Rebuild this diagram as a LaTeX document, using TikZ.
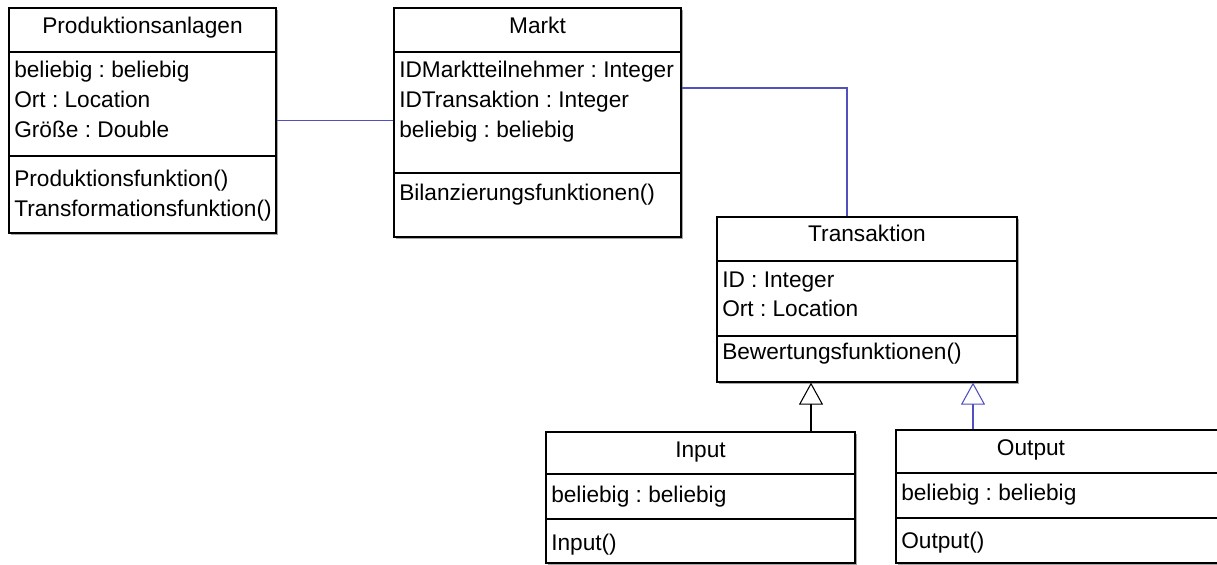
\documentclass[tikz,border=0pt]{standalone}
\usepackage{fontspec}
\setmainfont{Liberation Sans}
\usetikzlibrary{arrows.meta, fit, shadows}
\definecolor{umlblau}{RGB}{80,80,190}
\frenchspacing

\begin{document}
\begin{tikzpicture}[x=0.75pt, y=-0.75pt, >={Triangle[open, length=16.5pt, width=18pt]},
		klasse/.style={draw, fill=white, line width=0.9pt, inner sep=0pt,
			drop shadow={shadow xshift=1.2pt, shadow yshift=-1.2pt, fill=black, opacity=0.35}},
		trenn/.style={line width=0.9pt},
		assoz/.style={umlblau, line width=0.8pt},
		erbt/.style={->, line width=0.8pt},
		every node/.style={font=\fontsize{17}{20}\selectfont},
		titel/.style={anchor=base, inner sep=0pt},
		zeile/.style={anchor=base west, inner sep=0pt}]
	% 画布 (下方与右侧被截断)
	\clip (0,0) rectangle (1217,564);
	
	% 类：Produktionsanlagen
	\node[klasse, fit={(9,8) (276,233)}] (pa) {};
	\draw[trenn] (9,52) -- (276,52) (9,156) -- (276,156);
	\node[titel] (pa-t) at (142.5,33) {Produktionsanlagen};
	\node[zeile] (pa-a1) at (14,77) {beliebig : beliebig};
	\node[zeile] (pa-a2) at (14,107) {Ort : Location};
	\node[zeile] (pa-a3) at (14,137) {Größe : Double};
	\node[zeile] (pa-m1) at (14,186) {Produktionsfunktion()};
	\node[zeile] (pa-m2) at (14,216) {Transformationsfunktion()};
	
	% 类：Markt
	\node[klasse, fit={(394,8) (681,237)}] (markt) {};
	\draw[trenn] (394,52) -- (681,52) (394,173) -- (681,173);
	\node[titel] (markt-t) at (537.5,33) {Markt};
	\node[zeile] (markt-a1) at (399,77) {IDMarktteilnehmer : Integer};
	\node[zeile] (markt-a2) at (399,107) {IDTransaktion : Integer};
	\node[zeile] (markt-a3) at (399,137) {beliebig : beliebig};
	\node[zeile] (markt-m1) at (399,200) {Bilanzierungsfunktionen()};
	
	% 类：Transaktion
	\node[klasse, fit={(717,217) (1017,382)}] (trans) {};
	\draw[trenn] (717,261) -- (1017,261) (717,336) -- (1017,336);
	\node[titel] (trans-t) at (867,241) {Transaktion};
	\node[zeile] (trans-a1) at (722,287) {ID : Integer};
	\node[zeile] (trans-a2) at (722,316) {Ort : Location};
	\node[zeile] (trans-m1) at (722,359) {Bewertungsfunktionen()};
	
	% 子类：Input
	\node[klasse, fit={(546,432) (855,563)}] (input) {};
	\draw[trenn] (546,474) -- (855,474) (546,519) -- (855,519);
	\node[titel] (input-t) at (700.5,457) {Input};
	\node[zeile] (input-a1) at (551,502) {beliebig : beliebig};
	\node[zeile] (input-m1) at (551,550) {Input()};
	
	% 子类：Output (右边超出画布)
	\node[klasse, fit={(896,430) (1240,563)}] (output) {};
	\draw[trenn] (896,473) -- (1240,473) (896,518) -- (1240,518);
	\node[titel] (output-t) at (1031,455) {Output};
	\node[zeile] (output-a1) at (901,500) {beliebig : beliebig};
	\node[zeile] (output-m1) at (901,548) {Output()};
	
	% 关联
	\coordinate (knick) at (847,88);
	\draw[assoz] (pa.east) -- (pa.east -| markt.west);
	\draw[assoz] (markt.east |- knick) -| (trans.north -| knick);
	
	% 继承 (空心三角)
	\coordinate (ga) at (811,0);
	\coordinate (gb) at (973,0);
	\draw[erbt] (input.north -| ga) -- (trans.south -| ga);
	\draw[erbt, umlblau] (output.north -| gb) -- (trans.south -| gb);
\end{tikzpicture}
\end{document}
